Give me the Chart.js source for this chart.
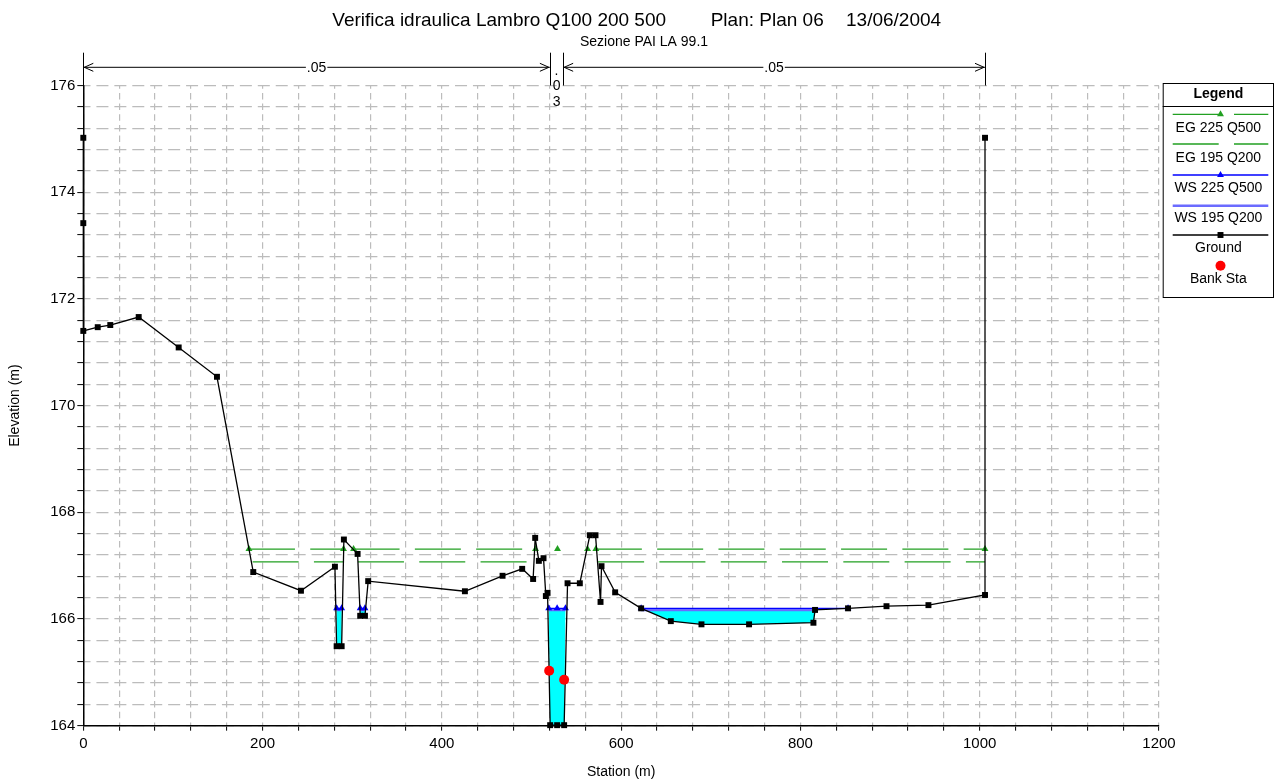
<!DOCTYPE html>
<html>
<head>
<meta charset="utf-8">
<script src="https://cdn.jsdelivr.net/npm/chart.js@4.4.1/dist/chart.umd.min.js"></script>
<style>
html,body{margin:0;padding:0;background:#fff;}
#wrap{width:1275px;height:783px;position:relative;}
canvas{display:block;}
</style>
</head>
<body>
<div id="wrap"><canvas id="c" width="1275" height="783"></canvas></div>
<script>
// ---------------- DATA ----------------
const titleParts = ['Verifica idraulica Lambro Q100 200 500', 'Plan: Plan 06', '13/06/2004'];
const subtitle = 'Sezione PAI LA 99.1';
const xTitle = 'Station (m)';
const yTitle = 'Elevation (m)';

const groundSta  = [0,0,0,16.1,30.1,61.8,106.4,149.1,189.6,242.8,280.7,282.6,288.2,290.7,306.0,308.9,314.2,317.8,425.7,467.7,489.6,501.8,504.1,508.2,513.4,516.0,517.9,520.8,528.6,536.4,540.2,553.9,565.1,571.4,577.0,578.1,593.3,622.3,655.4,689.6,742.7,814.5,816.3,853.1,896.0,942.8,1005.9,1005.9];
const groundElev = [175.02,173.42,171.40,171.47,171.51,171.66,171.09,170.54,166.88,166.53,166.98,165.49,165.49,167.49,167.22,166.06,166.06,166.71,166.52,166.81,166.94,166.75,167.52,167.09,167.14,166.43,166.49,164.01,164.01,164.01,166.67,166.67,167.57,167.57,166.32,166.99,166.50,166.20,165.96,165.90,165.90,165.93,166.17,166.20,166.24,166.26,166.45,175.02];

const ws500Sta  = [282.6,288.2,null,308.9,314.2,null,519.2,528.6,537.9,null,622.3,853.1];
const ws500Elev = [166.20,166.20,null,166.20,166.20,null,166.20,166.20,166.20,null,166.20,166.20];

const ws200Sta  = [282.6,288.2,null,308.9,314.2,null,519.2,537.9,null,622.3,816.3];
const ws200Elev = [166.17,166.17,null,166.17,166.17,null,166.17,166.17,null,166.17,166.17];

const eg500Sta  = [184.8,290.3,null,301.5,504.5,null,529.0,null,562.5,null,571.8,1005.9];
const eg500Elev = [167.31,167.31,null,167.31,167.31,null,167.31,null,167.31,null,167.31,167.31];

const eg200Sta  = [188.9,290.2,null,306.4,503.2,null,574.3,1005.9];
const eg200Elev = [167.07,167.07,null,167.07,167.07,null,167.07,167.07];

const bankSta  = [519.7, 536.4];
const bankElev = [165.03, 164.86];

const nStations = [0, 520.5, 535.3, 1005.9];
const nValues   = ['.05', '.03', '.05'];

const xTickLabels = [0, 200, 400, 600, 800, 1000, 1200];
const yTickLabels = [164, 166, 168, 170, 172, 174, 176];

// ---------------- STYLE ----------------
const FONT = "'Liberation Sans', Arial, sans-serif";
const C_EG = '#22a022';
const C_WS5 = '#0000ff';
const C_WS2 = '#6b6bff';
const C_WATER = '#00ffff';
const EG_DASH = [46, 15.3];
const C_GRID = '#bcbcbc';

function pts(sta, elev) {
  return sta.map((s, i) => ({x: s, y: elev[i]}));
}

function waterPolys() {
  const out = [];
  let seg = [];
  const flush = () => {
    if (seg.length >= 2) {
      const xl = seg[0].x, xr = seg[seg.length - 1].x, lvl = seg[0].y;
      out.push({x: xl, y: lvl});
      groundSta.forEach((s, i) => {
        if (s >= xl - 0.01 && s <= xr + 0.01) out.push({x: s, y: groundElev[i]});
      });
      out.push({x: xr, y: lvl});
      out.push({x: null, y: null});
    }
    seg = [];
  };
  ws500Sta.forEach((s, i) => {
    if (s === null) flush(); else seg.push({x: s, y: ws500Elev[i]});
  });
  flush();
  return out;
}

function drawMarker(ctx, style, x, y, r, color) {
  ctx.save();
  ctx.fillStyle = color;
  ctx.beginPath();
  if (style === 'triangle') {
    ctx.moveTo(x, y - r);
    ctx.lineTo(x + r * Math.sin(Math.PI / 3), y + r * 0.5);
    ctx.lineTo(x - r * Math.sin(Math.PI / 3), y + r * 0.5);
    ctx.closePath();
  } else if (style === 'rect') {
    const s = r * Math.SQRT1_2;
    ctx.rect(x - s, y - s, 2 * s, 2 * s);
  } else {
    ctx.arc(x, y, r, 0, Math.PI * 2);
  }
  ctx.fill();
  ctx.restore();
}

const legendEntries = [
  {label: 'EG 225 Q500', color: C_EG, width: 1.3, dash: EG_DASH, marker: 'triangle', mr: 4},
  {label: 'EG 195 Q200', color: C_EG, width: 1.3, dash: EG_DASH, marker: null},
  {label: 'WS 225 Q500', color: C_WS5, width: 1.3, dash: [], marker: 'triangle', mr: 4},
  {label: 'WS 195 Q200', color: C_WS2, width: 2.4, dash: [], marker: null},
  {label: 'Ground', color: '#000', width: 1.3, dash: [], marker: 'rect', mr: 4.2},
  {label: 'Bank Sta', color: '#ff0000', width: 0, dash: [], marker: 'circle', mr: 5}
];

const decor = {
  id: 'decor',
  afterDraw(chart) {
    const ctx = chart.ctx;
    const xs = chart.scales.x;
    const area = chart.chartArea;
    ctx.save();
    ctx.fillStyle = '#000';
    ctx.strokeStyle = '#000';

    // Title
    ctx.font = '19px ' + FONT;
    ctx.textAlign = 'left';
    ctx.textBaseline = 'alphabetic';
    ctx.fillText(titleParts[0], 332.3, 25.7);
    ctx.fillText(titleParts[1], 710.7, 25.7);
    ctx.fillText(titleParts[2], 846, 25.7);
    ctx.font = '14px ' + FONT;
    ctx.textAlign = 'center';
    ctx.fillText(subtitle, 644, 45.7);

    // Axis titles
    ctx.font = '14px ' + FONT;
    ctx.textBaseline = 'middle';
    ctx.fillText(xTitle, (area.left + area.right) / 2, 772);
    ctx.save();
    ctx.translate(15.5, (area.top + area.bottom) / 2);
    ctx.rotate(-Math.PI / 2);
    ctx.fillText(yTitle, 0, 0);
    ctx.restore();

    // Manning's n annotation
    const yA = 67.3, yTop = 52.7, yBot = area.top;
    ctx.lineWidth = 1;
    nStations.forEach(s => {
      const x = Math.round(xs.getPixelForValue(s)) + 0.5;
      ctx.beginPath(); ctx.moveTo(x, yTop); ctx.lineTo(x, yBot); ctx.stroke();
    });
    ctx.font = '14px ' + FONT;
    for (let i = 0; i < nValues.length; i++) {
      const x0 = xs.getPixelForValue(nStations[i]);
      const x1 = xs.getPixelForValue(nStations[i + 1]);
      if (x1 - x0 > 40) {
        ctx.beginPath(); ctx.moveTo(x0, yA); ctx.lineTo(x1, yA); ctx.stroke();
        ctx.beginPath();
        ctx.moveTo(x0 + 10, yA - 4); ctx.lineTo(x0 + 1, yA); ctx.lineTo(x0 + 10, yA + 4);
        ctx.moveTo(x1 - 10, yA - 4); ctx.lineTo(x1 - 1, yA); ctx.lineTo(x1 - 10, yA + 4);
        ctx.stroke();
        const xm = (x0 + x1) / 2;
        const w = ctx.measureText(nValues[i]).width;
        ctx.fillStyle = '#fff';
        ctx.fillRect(xm - w / 2 - 1, yA - 7, w + 2, 14);
        ctx.fillStyle = '#000';
        ctx.textAlign = 'center';
        ctx.textBaseline = 'middle';
        ctx.fillText(nValues[i], xm, yA + 0.5);
      } else {
        const xm = (x0 + x1) / 2;
        ctx.textAlign = 'center';
        ctx.textBaseline = 'alphabetic';
        const chars = nValues[i].split('');
        chars.forEach((ch, k) => ctx.fillText(ch, xm, 74.8 + k * 15.6));
      }
    }

    // Legend
    const L = 1162.7, R = 1274, T = 83, B = 298;
    const cx = (L + R) / 2;
    ctx.lineWidth = 1;
    ctx.strokeStyle = '#000';
    ctx.strokeRect(L + 0.5, T + 0.5, R - L - 1, B - T - 1);
    ctx.beginPath(); ctx.moveTo(L, 106.5); ctx.lineTo(R, 106.5); ctx.stroke();
    ctx.font = 'bold 14px ' + FONT;
    ctx.textAlign = 'center';
    ctx.textBaseline = 'middle';
    ctx.fillStyle = '#000';
    ctx.fillText('Legend', cx, 94.5);
    const lineY = [114.3, 144, 175, 205.7, 235, 265.7];
    const labY = [128.3, 158.3, 188.3, 217.7, 247.7, 279.3];
    const lx0 = 1172.7, lx1 = 1268.3, lmid = 1220.5;
    legendEntries.forEach((e, i) => {
      if (e.width > 0) {
        ctx.save();
        ctx.strokeStyle = e.color;
        ctx.lineWidth = e.width;
        ctx.setLineDash(e.dash);
        ctx.beginPath(); ctx.moveTo(lx0, lineY[i]); ctx.lineTo(lx1, lineY[i]); ctx.stroke();
        ctx.restore();
      }
      if (e.marker) drawMarker(ctx, e.marker, lmid, lineY[i], e.mr, e.color);
      ctx.font = '14px ' + FONT;
      ctx.fillStyle = '#000';
      ctx.fillText(e.label, cx, labY[i]);
    });
    ctx.restore();
  }
};

const isLabel = (v, list) => list.some(t => Math.abs(t - v) < 1e-6);

const ctx = document.getElementById('c').getContext('2d');
new Chart(ctx, {
  type: 'line',
  data: {
    datasets: [
      {label: 'Bank Sta', data: pts(bankSta, bankElev), showLine: false, pointStyle: 'circle', pointRadius: 5,
       pointBackgroundColor: '#ff0000', pointBorderWidth: 0, order: 0, clip: false},
      {label: 'Ground', data: pts(groundSta, groundElev), borderColor: '#000', borderWidth: 1.3, pointStyle: 'rect',
       pointRadius: 4.2, pointBackgroundColor: '#000', pointBorderWidth: 0, order: 1, clip: false},
      {label: 'WS 225 Q500', data: pts(ws500Sta, ws500Elev), borderColor: C_WS5, borderWidth: 1.3, pointStyle: 'triangle',
       pointRadius: 4, pointBackgroundColor: C_WS5, pointBorderWidth: 0, order: 2, clip: false},
      {label: 'WS 195 Q200', data: pts(ws200Sta, ws200Elev), borderColor: C_WS2, borderWidth: 2.4, pointRadius: 0, order: 3, clip: false},
      {label: 'EG 225 Q500', data: pts(eg500Sta, eg500Elev), borderColor: C_EG, borderWidth: 1.3, borderDash: EG_DASH,
       pointStyle: 'triangle', pointRadius: 4, pointBackgroundColor: C_EG, pointBorderWidth: 0, order: 4, clip: false},
      {label: 'EG 195 Q200', data: pts(eg200Sta, eg200Elev), borderColor: C_EG, borderWidth: 1.3, borderDash: EG_DASH,
       pointRadius: 0, order: 5, clip: false},
      {label: 'water', data: waterPolys(), fill: 'shape', backgroundColor: C_WATER, borderWidth: 0, pointRadius: 0, order: 10}
    ]
  },
  options: {
    responsive: false,
    animation: false,
    events: [],
    spanGaps: false,
    layout: {padding: {left: 0, right: 116, top: 85.5, bottom: 0}},
    plugins: {legend: {display: false}, tooltip: {enabled: false}, title: {display: false}},
    scales: {
      x: {
        type: 'linear', min: 0, max: 1200,
        afterFit: s => { s.height = 57.3; },
        ticks: {stepSize: 40, autoSkip: false, maxRotation: 0, padding: 4, color: '#000',
                font: {family: FONT, size: 15},
                callback: v => isLabel(v, xTickLabels) ? String(Math.round(v)) : ''},
        grid: {color: C_GRID, lineWidth: 1.2, tickColor: '#000', tickLength: 5, tickWidth: 1},
        border: {display: true, color: '#000', width: 1.5, dash: [6.5, 4.17], dashOffset: 3.25}
      },
      y: {
        type: 'linear', min: 164, max: 176,
        afterFit: s => { s.width = 83.3; },
        ticks: {stepSize: 0.4, autoSkip: false, padding: 2, color: '#000',
                font: {family: FONT, size: 15},
                callback: v => isLabel(v, yTickLabels) ? String(Math.round(v)) : ''},
        grid: {color: C_GRID, lineWidth: 1.2, tickColor: '#000', tickLength: 6, tickWidth: 1},
        border: {display: true, color: '#000', width: 1.5, dash: [12, 5.93], dashOffset: 6}
      }
    }
  },
  plugins: [decor]
});
</script>
</body>
</html>
